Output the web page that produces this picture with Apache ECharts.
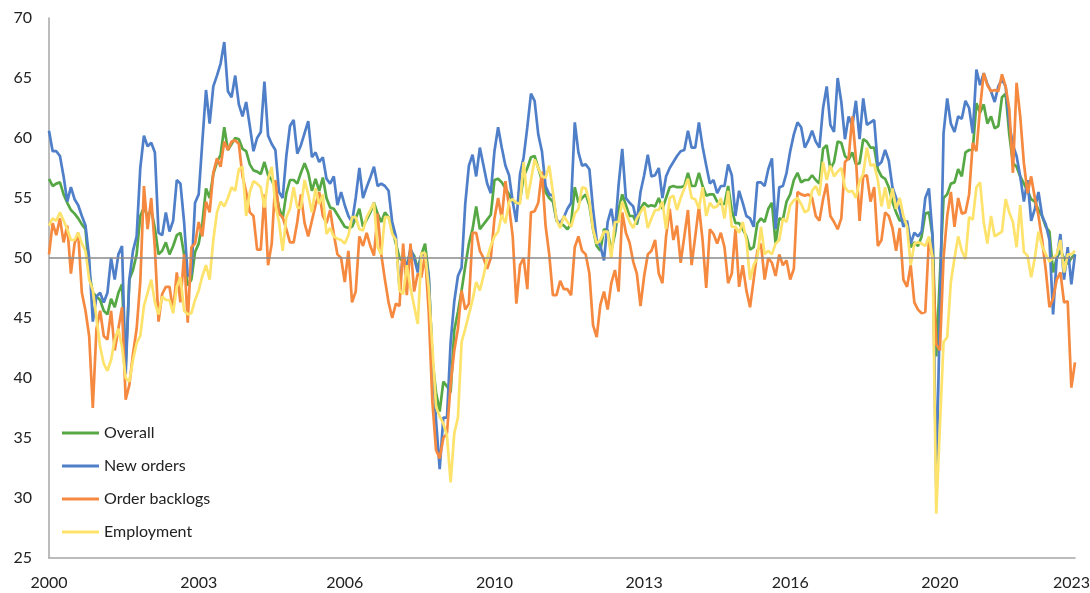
<!DOCTYPE html>
<html>
<head>
<meta charset="utf-8">
<script src="https://cdn.jsdelivr.net/npm/echarts@6/dist/echarts.min.js"></script>
<style>
  html, body { margin: 0; padding: 0; background: #fff; }
  #chart { width: 1090px; height: 593px; }
</style>
</head>
<body>
<div id="chart"></div>
<script>
// monthly categories, Jan 2000 .. Jun 2023
const months = []
for (let y = 2000; y <= 2023; y++) {
  for (let m = 1; m <= 12; m++) {
    if (y === 2023 && m > 6) break
    months.push(y + '-' + (m < 10 ? '0' + m : m))
  }
}

// indices of the months that carry a year label
const labelIdx = [0, 41, 81, 122, 163, 203, 244, 281]

const overall = [
  56.6, 56.0, 56.2, 56.3, 55.3, 54.6, 54.0, 53.7, 53.3, 52.8, 52.4, 48.8, 47.1, 46.8, 46.5, 45.6, 45.3, 46.6, 45.9, 47.1, 47.8, 41.0, 48.2, 49.0, 50.3,
  53.5, 54.2, 53.5, 54.0, 52.5, 50.3, 50.6, 51.3, 50.3, 51.0, 51.9, 52.1, 50.3, 47.7, 48.2, 50.5, 51.2, 52.9, 55.8, 55.0, 57.0, 58.0, 58.6, 60.9, 59.0, 59.5,
  60.0, 59.9, 59.1, 58.9, 57.8, 57.3, 57.2, 57.0, 58.0, 56.9, 56.5, 55.8, 54.2, 53.3, 55.4, 56.5, 56.5, 56.2, 57.1, 57.9, 57.1, 55.6, 56.6, 55.6, 56.7, 55.0,
  54.2, 54.1, 53.6, 53.1, 52.6, 52.5, 52.6, 53.3, 54.1, 52.6, 53.2, 53.8, 54.6, 53.7, 53.0, 53.8, 53.4, 52.4, 51.2, 50.0, 49.7, 49.4, 50.6, 50.2, 49.1, 50.3,
  51.2, 48.5, 41.5, 38.8, 37.2, 39.7, 39.3, 38.8, 44.0, 45.5, 47.3, 49.3, 51.2, 52.4, 54.3, 52.4, 52.8, 53.2, 53.6, 56.5, 56.6, 56.3, 55.8, 55.3, 54.7, 54.6, 54.8,
  56.8, 57.5, 58.4, 58.5, 57.5, 56.5, 55.5, 55.0, 54.7, 53.1, 52.9, 52.7, 52.4, 52.9, 55.9, 54.6, 55.0, 55.3, 54.4, 52.4, 51.0, 50.6, 52.4, 52.3, 50.6, 52.0,
  54.0, 55.3, 54.4, 53.5, 53.5, 52.8, 54.1, 54.6, 54.3, 54.4, 54.3, 55.0, 54.1, 55.0, 55.9, 56.0, 55.9, 55.9, 56.0, 57.1, 56.0, 56.0, 57.1, 56.0, 55.2, 55.3,
  55.3, 54.7, 54.5, 54.5, 56.0, 54.0, 52.9, 52.9, 52.4, 51.8, 50.7, 50.9, 52.9, 53.3, 53.0, 54.1, 54.6, 51.2, 53.3, 53.2, 54.7, 55.3, 56.5, 57.1, 56.3, 56.5,
  56.5, 56.9, 56.5, 56.2, 59.1, 59.4, 57.4, 58.0, 59.7, 59.6, 58.5, 58.2, 58.8, 57.8, 57.9, 59.9, 59.7, 59.2, 59.2, 57.4, 56.8, 56.6, 55.9, 54.7, 53.8, 53.1,
  53.2, 52.9, 50.9, 51.3, 51.0, 51.8, 53.7, 53.8, 51.8, 41.8, 48.5, 55.0, 55.3, 56.2, 56.3, 57.4, 56.8, 58.8, 59.0, 59.0, 62.9, 62.1, 62.8, 61.2, 61.8, 60.8,
  61.0, 63.4, 63.7, 60.3, 57.9, 57.6, 56.8, 56.2, 55.6, 54.9, 54.7, 54.0, 53.5, 52.6, 52.2, 48.8, 50.0, 50.6, 50.0, 49.5, 50.0, 50.3
]

const newOrders = [
  60.6, 58.9, 58.9, 58.5, 56.8, 54.7, 55.9, 54.9, 54.4, 53.5, 52.7, 50.0, 44.7, 46.8, 47.1, 46.3, 47.1, 50.0, 48.2, 50.3, 51.0, 40.3, 48.2, 50.6, 51.8,
  57.5, 60.2, 59.3, 59.6, 58.8, 52.1, 51.9, 53.8, 52.2, 53.1, 56.5, 56.2, 53.0, 48.5, 48.7, 54.6, 55.3, 59.7, 64.0, 61.2, 64.3, 65.2, 66.2, 68.0, 63.9, 63.4,
  65.2, 62.8, 61.8, 63.0, 61.0, 58.9, 60.0, 60.5, 64.7, 60.2, 59.5, 59.0, 55.5, 55.0, 58.5, 61.0, 61.5, 58.7, 59.4, 60.4, 61.4, 58.4, 58.8, 58.0, 58.4, 56.6,
  56.2, 56.8, 54.4, 55.5, 54.4, 53.5, 53.0, 55.0, 57.5, 55.0, 55.9, 56.7, 57.6, 56.0, 56.2, 56.0, 55.6, 53.0, 51.8, 47.5, 50.4, 49.0, 50.8, 50.0, 48.8, 50.3,
  50.3, 48.5, 41.5, 36.5, 32.4, 36.7, 36.7, 43.0, 46.4, 48.5, 49.2, 54.5, 57.7, 58.6, 56.8, 59.2, 57.7, 56.2, 55.4, 58.9, 60.9, 59.2, 57.7, 56.9, 54.7, 53.0, 57.0,
  58.4, 60.9, 63.7, 63.1, 60.3, 58.9, 56.0, 55.3, 55.2, 53.2, 52.9, 53.4, 54.1, 54.6, 61.3, 58.8, 57.7, 57.8, 57.4, 54.1, 51.5, 51.0, 49.8, 53.0, 54.1, 52.2,
  56.1, 59.1, 55.0, 54.6, 54.3, 53.0, 55.5, 56.9, 58.6, 56.8, 56.9, 57.5, 55.0, 56.8, 57.5, 58.0, 58.5, 58.9, 59.0, 60.6, 59.2, 59.2, 61.3, 59.3, 57.7, 56.2,
  56.5, 55.4, 56.0, 56.0, 57.8, 56.9, 53.5, 55.6, 54.6, 53.5, 53.3, 52.6, 56.3, 56.3, 56.0, 57.4, 58.3, 52.4, 55.9, 56.0, 57.1, 58.9, 60.3, 61.3, 60.9, 59.2,
  59.8, 60.6, 59.7, 59.2, 62.5, 64.3, 61.1, 60.5, 65.0, 63.0, 59.9, 61.8, 61.0, 63.1, 59.9, 63.3, 61.1, 61.3, 61.5, 57.7, 58.0, 59.0, 58.1, 55.9, 55.0, 54.0,
  52.6, 53.1, 51.2, 52.1, 51.8, 52.2, 55.0, 55.8, 51.8, 31.0, 45.7, 60.4, 63.3, 61.2, 60.5, 61.8, 61.6, 63.1, 62.5, 60.4, 65.7, 64.4, 65.4, 64.5, 63.9, 63.0,
  64.3, 64.9, 64.3, 61.2, 59.4, 58.5, 56.8, 54.7, 56.5, 53.1, 54.1, 55.5, 53.5, 52.8, 51.5, 45.3, 50.0, 52.0, 48.2, 50.9, 47.8, 50.3
]

const backlogs = [
  50.3, 52.9, 51.9, 53.3, 51.3, 52.7, 48.7, 51.2, 52.1, 47.1, 45.6, 43.5, 37.5, 44.1, 45.6, 43.5, 43.2, 45.6, 42.3, 44.1, 45.9, 38.2, 39.4, 42.0, 44.1,
  48.0, 56.0, 52.4, 55.0, 50.8, 44.7, 47.0, 47.6, 47.6, 45.6, 48.8, 46.3, 50.3, 44.6, 50.9, 51.2, 53.0, 51.8, 54.7, 53.8, 57.1, 58.3, 57.6, 59.7, 59.0, 59.7,
  59.8, 59.5, 56.8, 55.5, 53.8, 53.5, 50.7, 50.7, 55.3, 49.4, 51.2, 56.5, 53.7, 53.4, 52.4, 51.3, 51.3, 53.0, 55.3, 52.9, 51.8, 53.1, 54.4, 55.5, 53.5, 52.9,
  54.0, 52.0, 50.3, 50.0, 48.0, 50.6, 46.3, 47.2, 51.8, 51.0, 52.1, 51.0, 50.2, 53.7, 50.3, 48.2, 46.3, 45.0, 46.2, 46.0, 51.2, 46.9, 51.2, 47.2, 48.7, 48.4,
  50.3, 45.5, 38.0, 34.0, 33.3, 35.0, 35.4, 39.5, 42.3, 44.1, 47.3, 45.7, 46.2, 52.1, 52.1, 50.6, 50.0, 49.1, 50.0, 53.3, 55.0, 53.3, 56.4, 54.3, 51.8, 46.2, 49.4,
  50.0, 47.4, 53.8, 53.9, 54.6, 57.2, 52.7, 50.3, 46.9, 46.9, 48.1, 47.4, 47.4, 46.9, 50.9, 51.8, 50.6, 50.3, 48.7, 44.4, 43.4, 46.1, 47.2, 45.7, 47.9, 49.0,
  47.2, 53.8, 52.1, 51.3, 49.7, 48.7, 46.0, 48.5, 50.3, 50.6, 51.5, 48.7, 47.9, 51.8, 54.1, 51.5, 52.7, 49.6, 51.8, 54.0, 49.4, 51.8, 54.3, 51.5, 47.5, 52.4,
  52.0, 51.2, 52.1, 50.9, 47.9, 48.7, 52.4, 47.6, 49.4, 47.3, 45.9, 48.2, 50.6, 51.2, 48.2, 50.0, 49.6, 48.5, 50.3, 49.4, 49.8, 48.2, 49.1, 55.5, 55.3, 55.2,
  55.3, 55.0, 53.5, 53.1, 54.9, 56.2, 53.5, 53.0, 52.4, 53.3, 58.0, 58.3, 61.8, 58.3, 53.1, 56.8, 56.9, 54.7, 55.9, 51.0, 51.5, 53.8, 53.5, 52.5, 50.6, 52.5,
  48.2, 47.6, 49.4, 46.3, 45.7, 45.4, 45.5, 51.6, 50.0, 42.8, 42.3, 50.0, 53.5, 55.5, 52.6, 55.0, 53.7, 53.8, 55.3, 59.6, 58.9, 62.5, 65.4, 64.4, 63.9, 64.0,
  63.9, 65.3, 64.3, 62.4, 57.1, 64.6, 61.8, 57.9, 55.4, 56.8, 55.0, 53.5, 51.5, 49.0, 45.9, 46.6, 48.2, 48.8, 46.3, 46.4, 39.2, 41.3
]

const employment = [
  52.7, 53.3, 53.1, 53.8, 53.1, 52.4, 51.5, 51.5, 52.1, 51.2, 50.6, 48.2, 47.3, 45.0, 42.6, 41.2, 40.6, 41.5, 43.2, 44.1, 42.6, 40.0, 39.7, 41.5, 42.9,
  43.5, 46.0, 47.1, 48.2, 46.3, 45.3, 46.8, 46.5, 46.5, 45.4, 47.6, 48.4, 45.6, 45.3, 45.4, 46.5, 47.3, 48.5, 49.4, 48.2, 51.5, 53.8, 54.7, 54.3, 55.0, 55.9,
  55.6, 57.4, 57.6, 53.5, 55.5, 56.4, 56.2, 55.9, 54.2, 56.6, 57.6, 54.4, 53.0, 50.6, 53.4, 54.1, 55.9, 54.2, 54.2, 56.5, 55.3, 53.8, 55.8, 54.5, 55.3, 52.0,
  52.5, 51.8, 51.6, 51.5, 51.2, 51.9, 53.4, 53.4, 52.4, 52.3, 53.4, 54.0, 54.6, 50.9, 50.3, 53.4, 53.4, 52.0, 51.5, 47.3, 47.0, 49.4, 47.5, 46.0, 44.5, 50.4,
  50.4, 47.5, 42.6, 37.6, 36.8, 36.2, 35.2, 31.3, 35.4, 36.7, 43.0, 44.1, 45.3, 46.5, 48.0, 47.3, 48.5, 50.0, 51.0, 51.8, 52.2, 53.6, 52.9, 54.7, 54.9, 54.6, 54.5,
  58.0, 54.9, 56.5, 58.2, 57.5, 56.8, 56.7, 57.7, 55.5, 53.2, 52.5, 53.5, 53.0, 52.6, 53.7, 54.1, 55.9, 55.8, 54.7, 52.4, 51.2, 51.5, 52.2, 52.2, 50.0, 53.0,
  53.0, 54.7, 53.8, 53.0, 52.5, 53.3, 53.8, 54.3, 52.5, 53.3, 54.0, 54.0, 54.7, 52.4, 55.0, 55.2, 54.0, 55.0, 55.8, 56.6, 55.0, 54.9, 54.1, 55.9, 53.5, 54.6,
  54.2, 54.3, 55.0, 53.3, 55.6, 52.6, 52.6, 52.1, 53.0, 51.5, 48.2, 49.4, 50.0, 52.6, 50.3, 50.6, 50.3, 51.2, 51.5, 53.3, 53.0, 54.4, 54.8, 55.0, 54.5, 53.8,
  54.0, 55.6, 56.0, 55.2, 58.0, 56.5, 57.7, 56.8, 57.2, 57.5, 55.9, 55.5, 55.6, 55.0, 56.4, 57.0, 59.2, 57.7, 57.8, 56.5, 54.3, 55.9, 54.1, 55.8, 54.1, 55.0,
  53.5, 52.6, 49.4, 51.2, 51.3, 51.2, 51.0, 51.8, 50.0, 28.7, 36.0, 43.0, 43.4, 48.0, 50.0, 51.8, 50.6, 49.9, 53.4, 53.2, 55.9, 56.3, 53.0, 51.2, 53.5, 51.8,
  52.0, 52.2, 54.9, 53.8, 53.0, 50.9, 54.4, 50.5, 50.2, 48.4, 50.0, 52.2, 51.0, 50.3, 49.7, 50.0, 50.3, 51.5, 48.8, 50.3, 50.3, 50.6
]

const chart = echarts.init(document.getElementById('chart'))

const font = 'Lato, "Open Sans", sans-serif'
const lineSeries = (name, data, color) => ({
  name,
  type: 'line',
  data,
  symbol: 'none',
  lineStyle: { color, width: 2.7 },
  itemStyle: { color },
  animation: false
})

const series = [
  lineSeries('Overall', overall, '#56a844'),
  lineSeries('New orders', newOrders, '#4f7fc8'),
  lineSeries('Order backlogs', backlogs, '#f5893f'),
  lineSeries('Employment', employment, '#fde36b')
]
// reference line at 50
series[0].markLine = {
  silent: true,
  symbol: 'none',
  label: { show: false },
  lineStyle: { color: '#8a8a8a', width: 1.5, type: 'solid' },
  data: [{ yAxis: 50 }]
}

const lastIdx = months.length - 1

chart.setOption({
  backgroundColor: '#fff',
  animation: false,
  grid: { left: 49, right: 15, top: 18, bottom: 35, outerBoundsMode: 'none' },
  legend: {
    orient: 'vertical',
    left: 57,
    top: 420,
    icon: 'rect',
    itemWidth: 37,
    itemHeight: 3,
    itemGap: 17,
    textStyle: { color: '#222', fontSize: 16, fontFamily: font },
    data: ['Overall', 'New orders', 'Order backlogs', 'Employment']
  },
  xAxis: {
    type: 'category',
    data: months,
    boundaryGap: false,
    axisLine: { lineStyle: { color: '#a6a6a6', width: 1.5 } },
    axisTick: { show: false },
    axisLabel: {
      interval: (idx) => labelIdx.includes(idx),
      formatter: (v, idx) => idx === lastIdx ? '{end|' + v.slice(0, 4) + '}' : v.slice(0, 4),
      rich: { end: { padding: [0, 7, 0, 0], fontSize: 16, fontFamily: font, color: '#222' } },
      color: '#222',
      fontSize: 16,
      fontFamily: font,
      margin: 17
    },
    splitLine: { show: false }
  },
  yAxis: {
    type: 'value',
    min: 25,
    max: 70,
    interval: 5,
    axisLine: { show: true, lineStyle: { color: '#a6a6a6', width: 1.5 } },
    axisTick: { show: false },
    axisLabel: { color: '#222', fontSize: 16, fontFamily: font, margin: 17 },
    splitLine: { show: false }
  },
  series
})
</script>
</body>
</html>
